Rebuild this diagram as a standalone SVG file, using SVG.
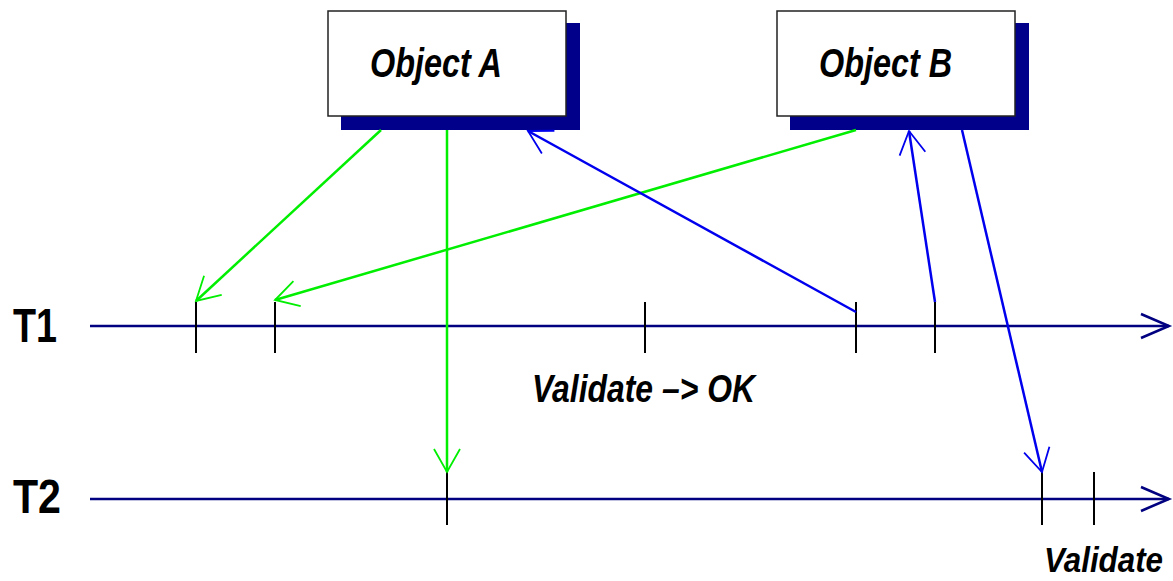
<svg xmlns="http://www.w3.org/2000/svg" width="1173" height="581" viewBox="0 0 1173 581">
<style>
.lbl{font-family:"Liberation Sans",Arial,sans-serif;font-weight:bold;font-style:italic;fill:#000}
.tl{font-family:"Liberation Sans",Arial,sans-serif;font-weight:bold;fill:#000}
.box{fill:#fff;stroke:#222;stroke-width:1.5}
.shadow{fill:#00008b}
.axis{stroke:#000080;stroke-width:2.5;fill:none}
.tick{stroke:#000;stroke-width:2}
.g{stroke:#00ee00;stroke-width:2.5;fill:none}
.b{stroke:#0000ee;stroke-width:2.5;fill:none}
</style>
<defs>
<marker id="hg" markerUnits="userSpaceOnUse" markerWidth="40" markerHeight="40" viewBox="-30 -20 40 40" refX="0" refY="0" orient="auto" overflow="visible">
<path d="M-23,-13 L0,0 L-23,13" fill="none" stroke="#00ee00" stroke-width="1.8"/>
</marker>
<marker id="hb" markerUnits="userSpaceOnUse" markerWidth="40" markerHeight="40" viewBox="-30 -20 40 40" refX="0" refY="0" orient="auto" overflow="visible">
<path d="M-23,-13 L0,0 L-23,13" fill="none" stroke="#0000ee" stroke-width="1.8"/>
</marker>
<marker id="ha" markerUnits="userSpaceOnUse" markerWidth="40" markerHeight="40" viewBox="-30 -20 40 40" refX="0" refY="0" orient="auto" overflow="visible">
<path d="M-28,-12 L0,0 L-28,12" fill="none" stroke="#000080" stroke-width="2.5"/>
</marker>
</defs>
<rect width="1173" height="581" fill="#fff"/>
<g id="objectA">
<rect class="shadow" x="341" y="23" width="239" height="107"/>
<rect class="box" x="328" y="11" width="238" height="105"/>
<text class="lbl" x="370" y="77" font-size="40" textLength="132" lengthAdjust="spacingAndGlyphs">Object A</text>
</g>
<g id="objectB">
<rect class="shadow" x="790" y="23" width="239" height="107"/>
<rect class="box" x="777" y="11" width="238" height="105"/>
<text class="lbl" x="819" y="77" font-size="40" textLength="133" lengthAdjust="spacingAndGlyphs">Object B</text>
</g>
<g id="T1">
<text class="tl" x="13" y="342" font-size="48" textLength="44" lengthAdjust="spacingAndGlyphs">T1</text>
<line class="axis" x1="90" y1="326" x2="1169" y2="326" marker-end="url(#ha)"/>
<line class="tick" x1="196" y1="302" x2="196" y2="353"/>
<line class="tick" x1="275" y1="302" x2="275" y2="353"/>
<line class="tick" x1="645" y1="302" x2="645" y2="353"/>
<line class="tick" x1="856" y1="302" x2="856" y2="353"/>
<line class="tick" x1="935" y1="302" x2="935" y2="353"/>
</g>
<g id="T2">
<text class="tl" x="13" y="513" font-size="48" textLength="48" lengthAdjust="spacingAndGlyphs">T2</text>
<line class="axis" x1="90" y1="499" x2="1169" y2="499" marker-end="url(#ha)"/>
<line class="tick" x1="447" y1="472" x2="447" y2="525"/>
<line class="tick" x1="1042" y1="472" x2="1042" y2="525"/>
<line class="tick" x1="1094" y1="472" x2="1094" y2="525"/>
</g>
<g id="labels">
<text class="lbl" x="532" y="402" font-size="39" textLength="223" lengthAdjust="spacingAndGlyphs">Validate –&gt; OK</text>
<text class="lbl" transform="translate(1044,572) scale(0.98,1.12)" x="0" y="0" font-size="32">Validate</text>
</g>
<g id="connectors">
<line class="g" x1="381" y1="130" x2="196" y2="301" marker-end="url(#hg)"/>
<line class="g" x1="856" y1="130" x2="275" y2="300" marker-end="url(#hg)"/>
<line class="g" x1="447" y1="130" x2="447" y2="472" marker-end="url(#hg)"/>
<line class="b" x1="856" y1="312" x2="528" y2="131" marker-end="url(#hb)"/>
<line class="b" x1="935" y1="302" x2="909" y2="131" marker-end="url(#hb)"/>
<line class="b" x1="962" y1="130" x2="1042" y2="472" marker-end="url(#hb)"/>
</g>
</svg>
